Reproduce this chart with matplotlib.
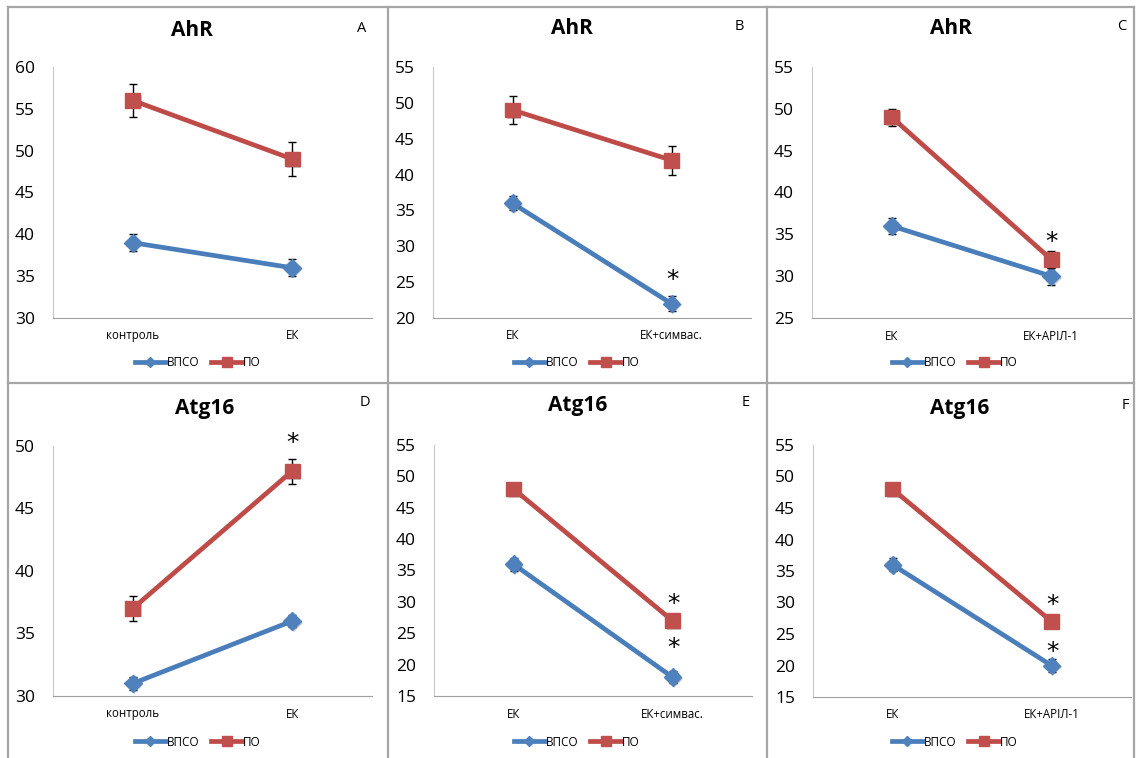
import matplotlib
matplotlib.use("Agg")
import matplotlib.pyplot as plt
import matplotlib.patheffects as pe
from matplotlib.lines import Line2D

plt.rcParams['font.family'] = ['Open Sans', 'DejaVu Sans']

# ---- data ----
series_names = ["ВПСО", "ПО"]

cats_A = ["контроль", "ЕК"]
vpso_A = [39, 36]
vpso_A_err = [1, 1]
po_A = [56, 49]
po_A_err = [2, 2]

cats_B = ["ЕК", "ЕК+симвас."]
vpso_B = [36, 22]
vpso_B_err = [1, 1]
po_B = [49, 42]
po_B_err = [2, 2]

cats_C = ["ЕК", "ЕК+АРІЛ-1"]
vpso_C = [36, 30]
vpso_C_err = [1, 1]
po_C = [49, 32]
po_C_err = [1, 1]

cats_D = ["контроль", "ЕК"]
vpso_D = [31, 36]
vpso_D_err = [0.5, 0.5]
po_D = [37, 48]
po_D_err = [1, 1]

cats_E = ["ЕК", "ЕК+симвас."]
vpso_E = [36, 18]
vpso_E_err = [1, 1]
po_E = [48, 27]
po_E_err = [0.5, 0.5]

cats_F = ["ЕК", "ЕК+АРІЛ-1"]
vpso_F = [36, 20]
vpso_F_err = [1, 1]
po_F = [48, 27]
po_F_err = [0.5, 0.5]

W, H = 1136, 758
fig = plt.figure(figsize=(W / 100, H / 100), dpi=100)
fig.patch.set_facecolor("white")

BLUE_LINE, BLUE_FACE = "#4A7EBB", "#4F81BD"
RED_LINE, RED_FACE = "#BE4B48", "#C0504D"


def fx(x):
    return x / W


def fy(y):
    return 1 - y / H


# panel frames
frame_kw = dict(color="#a6a6a6", lw=1.6, transform=fig.transFigure)
for x in (8, 388, 767, 1134):
    fig.add_artist(Line2D([fx(x), fx(x)], [fy(7), fy(757)], **frame_kw))
for y in (7, 383):
    fig.add_artist(Line2D([fx(8), fx(1134)], [fy(y), fy(y)], **frame_kw))

shadow = [pe.SimplePatchShadow(offset=(1.2, -1.2), shadow_rgbFace="#333333", alpha=0.25), pe.Normal()]


def panel(rect, cats, vpso, vpso_err, po, po_err, ylim, title, title_xy, letter, letter_xy,
          xlab_y, legend_xy, stars):
    x0, y0, x1, y1 = rect
    ax = fig.add_axes([fx(x0), fy(y1), fx(x1) - fx(x0), fy(y0) - fy(y1)])
    xs = [0, 1]
    for vals, errs, lc, fc, mk, ms, z in (
        (vpso, vpso_err, BLUE_LINE, BLUE_FACE, "D", 9, 3),
        (po, po_err, RED_LINE, RED_FACE, "s", 10.5, 4),
    ):
        ax.plot(xs, vals, color=lc, lw=3.4, solid_capstyle="round", zorder=z)
        ax.errorbar(xs, vals, yerr=errs, fmt="none", ecolor="black", elinewidth=1,
                    capsize=2.6, capthick=1, zorder=z + 0.2)
        ax.plot(xs, vals, ls="none", marker=mk, ms=ms, mfc=fc, mec=fc, zorder=z + 0.5,
                path_effects=shadow)
    for s, i, off in stars:
        vals = vpso if s == 0 else po
        ax.annotate("*", (xs[i], vals[i]), xytext=(0.5, off), textcoords="offset points",
                    ha="center", va="center", fontsize=18, family="DejaVu Sans", zorder=6)
    ax.set_xlim(-0.5, 1.5)
    ax.set_ylim(*ylim)
    ax.set_yticks(range(ylim[0], ylim[1] + 1, 5))
    ax.set_xticks([])
    ax.tick_params(axis="y", length=0, pad=13, labelsize=12.5)
    for sp in ("top", "right"):
        ax.spines[sp].set_visible(False)
    ax.spines["left"].set_color("#c8c8c8")
    ax.spines["bottom"].set_color("#a0a0a0")
    ax.patch.set_alpha(0)
    # category labels
    for i, c in enumerate(cats):
        xd = ax.transData.transform((xs[i], 0))[0]
        fig.text(xd / fig.dpi / fig.get_size_inches()[0], fy(xlab_y), c, ha="center",
                 va="center", fontsize=8.3)
    fig.text(fx(title_xy[0]), fy(title_xy[1]), title, ha="center", va="center",
             fontsize=15, fontweight="bold")
    fig.text(fx(letter_xy[0]), fy(letter_xy[1]), letter, ha="center", va="center",
             fontsize=10.5)
    handles = [
        Line2D([], [], color=BLUE_LINE, lw=3.4, marker="D", ms=5, mfc=BLUE_FACE, mec=BLUE_FACE),
        Line2D([], [], color=RED_LINE, lw=3.4, marker="s", ms=7, mfc=RED_FACE, mec=RED_FACE),
    ]
    fig.legend(handles, series_names, loc="center", bbox_to_anchor=(fx(legend_xy[0]), fy(legend_xy[1])),
               ncol=2, frameon=False, fontsize=8.5, handlelength=2.6, handletextpad=0.1,
               columnspacing=1.0)
    return ax


panel((53, 67, 372, 318), cats_A, vpso_A, vpso_A_err, po_A, po_A_err, (30, 60),
      "AhR", (192, 30), "A", (362, 28), 335, (198, 363), [])
panel((433, 67, 751, 318), cats_B, vpso_B, vpso_B_err, po_B, po_B_err, (20, 55),
      "AhR", (572, 28), "B", (739, 26), 335, (577, 363), [(0, 1, 17)])
panel((812, 67, 1131, 318), cats_C, vpso_C, vpso_C_err, po_C, po_C_err, (25, 55),
      "AhR", (951, 28), "C", (1122, 26), 336, (955, 363), [(1, 1, 12.5)])
panel((53, 446, 372, 696), cats_D, vpso_D, vpso_D_err, po_D, po_D_err, (30, 50),
      "Atg16", (205, 408), "D", (365, 403), 714, (198, 742), [(1, 1, 20)])
panel((434, 445, 752, 696), cats_E, vpso_E, vpso_E_err, po_E, po_E_err, (15, 55),
      "Atg16", (578, 405), "E", (746, 403), 714, (577, 742), [(1, 1, 12), (0, 1, 21)])
panel((813, 445, 1131, 697), cats_F, vpso_F, vpso_F_err, po_F, po_F_err, (15, 55),
      "Atg16", (960, 408), "F", (1125, 405), 715, (955, 742), [(1, 1, 12), (0, 1, 10)])

fig.savefig("out.png", dpi=100, facecolor="white")
